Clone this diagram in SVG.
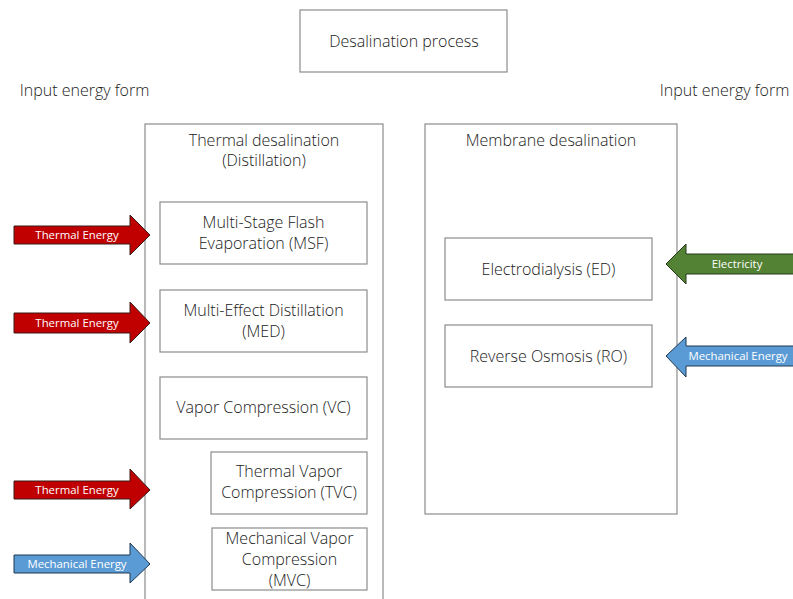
<svg xmlns="http://www.w3.org/2000/svg" width="793" height="599" viewBox="0 0 793 599">
<style>
.box{fill:#fff;stroke:#8c8c8c;stroke-width:1.2}
.t{font-family:"Open Sans","Noto Sans",sans-serif;font-size:16px;fill:#1a1a1a;text-anchor:middle;font-weight:300}
.a{font-family:"Open Sans","Noto Sans",sans-serif;font-size:11.4px;fill:#fff;text-anchor:middle}
.red{fill:#c00000;stroke:#3a1a1a;stroke-width:1}
.green{fill:#548235;stroke:#253a18;stroke-width:1}
.blue{fill:#5b9bd5;stroke:#1f3850;stroke-width:1}
</style>
<rect width="793" height="599" fill="#fff"/>
<g id="title"><rect class="box" x="300" y="10" width="207" height="62"/><text class="t" x="404" y="47">Desalination process</text></g>
<text class="t" x="84.5" y="96">Input energy form</text>
<text class="t" x="724.5" y="96">Input energy form</text>
<g id="thermal"><rect class="box" x="145" y="124" width="238" height="490"/><text class="t" x="264" y="146">Thermal desalination</text><text class="t" x="264" y="166">(Distillation)</text></g>
<g id="membrane"><rect class="box" x="425" y="124" width="252" height="390"/><text class="t" x="551" y="146">Membrane desalination</text></g>
<g id="msf"><rect class="box" x="160" y="202" width="207" height="62"/><text class="t" x="263.5" y="228">Multi-Stage Flash</text><text class="t" x="263.5" y="249">Evaporation (MSF)</text></g>
<g id="med"><rect class="box" x="160" y="290" width="207" height="62"/><text class="t" x="263.5" y="316">Multi-Effect Distillation</text><text class="t" x="263.5" y="337">(MED)</text></g>
<g id="vc"><rect class="box" x="160" y="377" width="207" height="62"/><text class="t" x="263.5" y="413">Vapor Compression (VC)</text></g>
<g id="tvc"><rect class="box" x="211" y="452" width="156" height="62"/><text class="t" x="289" y="477">Thermal Vapor</text><text class="t" x="289" y="498">Compression (TVC)</text></g>
<g id="mvc"><rect class="box" x="212" y="528" width="155" height="62"/><text class="t" x="289.5" y="544">Mechanical Vapor</text><text class="t" x="289.5" y="565">Compression</text><text class="t" x="289.5" y="586">(MVC)</text></g>
<g id="ed"><rect class="box" x="445" y="238" width="207" height="62"/><text class="t" x="548.5" y="275">Electrodialysis (ED)</text></g>
<g id="ro"><rect class="box" x="445" y="325" width="207" height="62"/><text class="t" x="548.5" y="362">Reverse Osmosis (RO)</text></g>
<g id="connectors">
<path class="red" d="M14 226H130V215L150 235L130 255V244H14Z"/><text class="a" x="77" y="239">Thermal Energy</text>
<path class="red" d="M14 313H130V302L150 323L130 343V333H14Z"/><text class="a" x="77" y="327">Thermal Energy</text>
<path class="red" d="M14 481H130V469L150 490L130 509V499H14Z"/><text class="a" x="77" y="494">Thermal Energy</text>
<path class="blue" d="M14 555H130V543L150 564L130 583V573H14Z"/><text class="a" x="77" y="568">Mechanical Energy</text>
<path class="green" d="M795 254H686V244L666 264L686 284V274H795Z"/><text class="a" x="737" y="268">Electricity</text>
<path class="blue" d="M795 346H686V337L666 356L686 377V366H795Z"/><text class="a" x="738" y="360">Mechanical Energy</text>
</g>
</svg>
